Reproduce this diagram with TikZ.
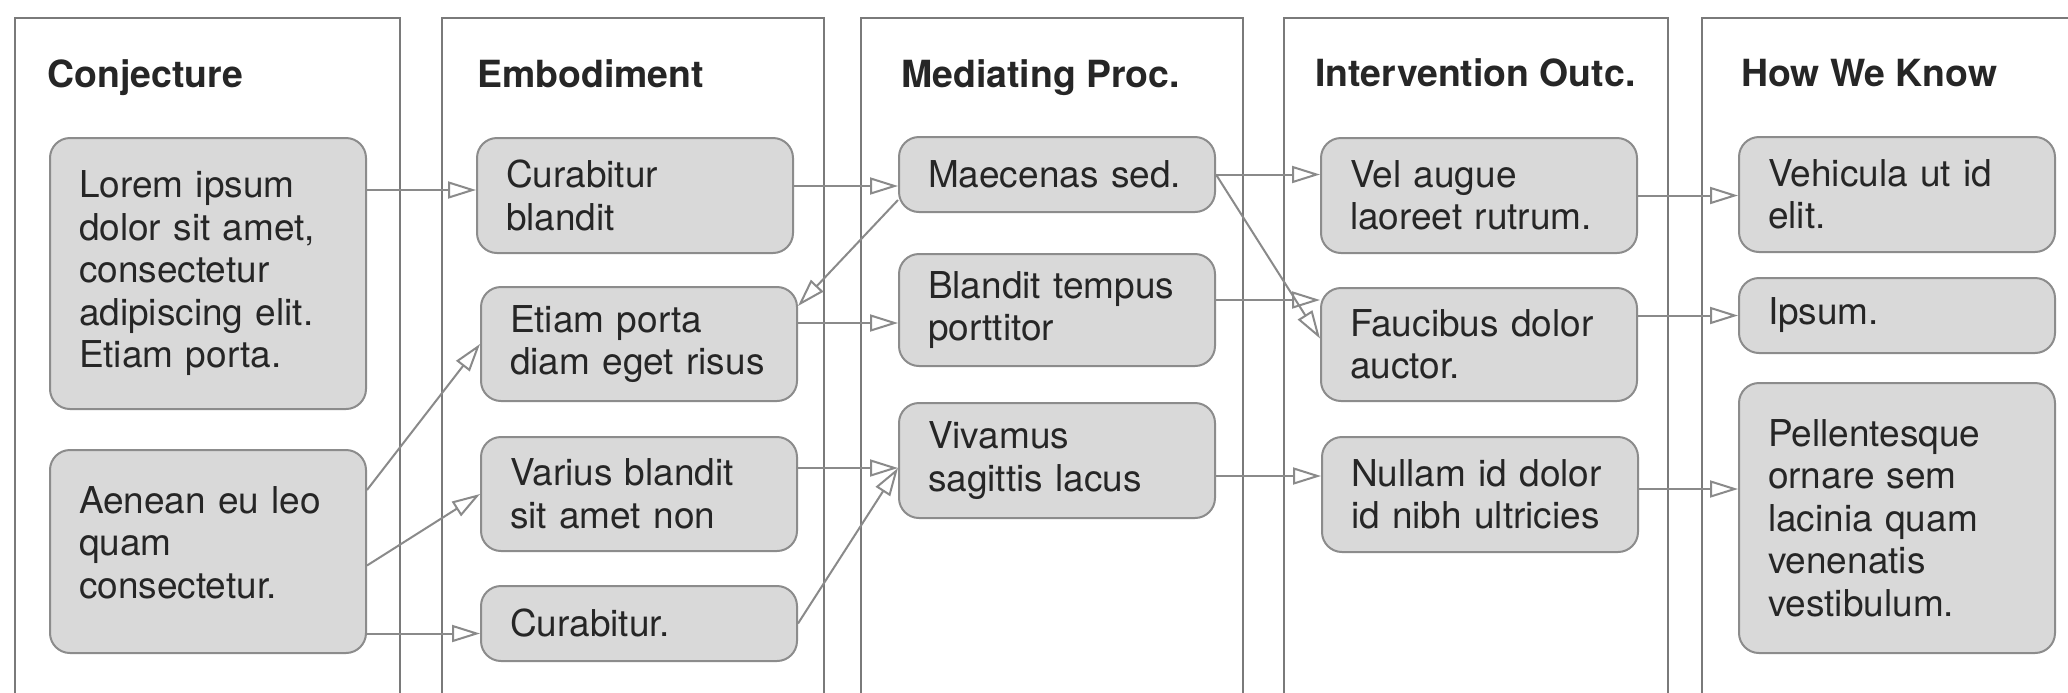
\documentclass[tikz,border=0pt]{standalone}
\usepackage{fontspec}
\setmainfont{TeX Gyre Heros}
\usetikzlibrary{arrows.meta}
\definecolor{framec}{HTML}{7A7A7A}
\definecolor{boxline}{HTML}{8C8C8C}
\definecolor{boxfill}{HTML}{D9D9D9}
\definecolor{txt}{HTML}{262626}
\definecolor{arrc}{HTML}{8A8A8A}
\begin{document}
\begin{tikzpicture}[x=0.5pt,y=-0.5pt,
  colframe/.style={draw=framec, line width=1pt},
  hdr/.style={anchor=base west, inner sep=0pt, font=\fontsize{18.7pt}{21pt}\selectfont\bfseries, text=txt},
  card/.style={draw=boxline, line width=1pt, fill=boxfill, rounded corners=10pt, anchor=north west,
    minimum width=158pt, text width=129pt, inner xsep=14.5pt, inner ysep=0pt, align=left,
    font=\fontsize{18.5pt}{21.25pt}\selectfont, text=txt},
  arr/.style={draw=arrc, line width=1pt, -{Triangle[open, length=14pt, width=8.5pt]}}]
\useasboundingbox (0,0) rectangle (2068,692);
\fill[white] (0,0) rectangle (2068,692);
% column frames
\draw[colframe] (15,18) rectangle (400,720);
\draw[colframe] (442,18) rectangle (824,720);
\draw[colframe] (861,18) rectangle (1243,720);
\draw[colframe] (1284,18) rectangle (1668,720);
\draw[colframe] (1702,18) rectangle (2120,720);
% headers
\node[hdr] (h1) at (47,87) {Conjecture};
\node[hdr] (h2) at (477,87) {Embodiment};
\node[hdr] (h3) at (901,87) {Mediating Proc.};
\node[hdr] (h4) at (1315,86) {Intervention Outc.};
\node[hdr] (h5) at (1741,86) {How We Know};
% cards
\node[card, minimum height=135.5pt] (lorem) at (49,137) {Lorem ipsum\\dolor sit amet,\\consectetur\\adipiscing elit.\\Etiam porta.};
\node[card, minimum height=101.5pt] (aen) at (49,449) {Aenean eu leo\\quam\\consectetur.\\[-12.25pt]\mbox{}};
\node[card, minimum height=57.5pt] (cb) at (476,137) {Curabitur\\blandit};
\node[card, minimum height=57pt] (etiam) at (480,286) {Etiam porta\\diam eget risus};
\node[card, minimum height=57pt] (varius) at (480,436) {Varius blandit\\sit amet non};
\node[card, minimum height=37.5pt] (cur) at (480,585) {Curabitur.};
\node[card, minimum height=37.5pt] (maec) at (898,136) {Maecenas sed.};
\node[card, minimum height=56pt] (bland) at (898,253) {Blandit tempus\\porttitor};
\node[card, minimum height=57.5pt] (viv) at (898,402) {Vivamus\\sagittis lacus};
\node[card, minimum height=57.5pt] (vel) at (1320,137) {Vel augue\\laoreet rutrum.};
\node[card, minimum height=56.5pt] (fauc) at (1320,287) {Faucibus dolor\\auctor.};
\node[card, minimum height=57.5pt] (null) at (1321,436) {Nullam id dolor\\id nibh ultricies};
\node[card, minimum height=57.5pt] (veh) at (1738,136) {Vehicula ut id\\elit.};
\node[card, minimum height=37.5pt] (ips) at (1738,277) {Ipsum.};
\node[card, minimum height=135pt] (pell) at (1738,382) {Pellentesque\\ornare sem\\lacinia quam\\venenatis\\vestibulum.};
% connectors
\coordinate (t1) at ([yshift=2.75pt]cb.west);
\draw[arr] (lorem.east |- t1) -- (t1);
\draw[arr] ([yshift=-20.5pt]aen.north east) -- (etiam.west);
\draw[arr] ([yshift=-7pt]aen.east) -- (varius.west);
\coordinate (t4) at ([yshift=-5pt]cur.west);
\draw[arr] (aen.east |- t4) -- (t4);
\coordinate (t5) at ([yshift=-5.75pt]maec.west);
\draw[arr] (cb.east |- t5) -- (t5);
\draw[arr] ([yshift=6.5pt]maec.south west) -- ([yshift=-10pt]etiam.north east);
\coordinate (t7) at ([yshift=-6.5pt]bland.west);
\draw[arr] (etiam.east |- t7) -- (t7);
\coordinate (t8) at ([yshift=-3.75pt]viv.west);
\draw[arr] (varius.east |- t8) -- (t8);
\draw[arr] (cur.east) -- (t8);
\draw[arr] (maec.east) -- (maec.east -| vel.west);
\draw[arr] (maec.east) -- ([yshift=3pt]fauc.west);
\coordinate (s12) at ([yshift=5pt]bland.east);
\draw[arr] (s12) -- (s12 -| fauc.west);
\coordinate (s13) at ([yshift=-7.75pt]viv.east);
\draw[arr] (s13) -- (s13 -| null.west);
\draw[arr] (vel.east) -- (vel.east -| veh.west);
\draw[arr] (fauc.east |- ips.west) -- (ips.west);
\coordinate (s16) at ([yshift=2.75pt]null.east);
\draw[arr] (s16) -- (s16 -| pell.west);
\end{tikzpicture}
\end{document}
